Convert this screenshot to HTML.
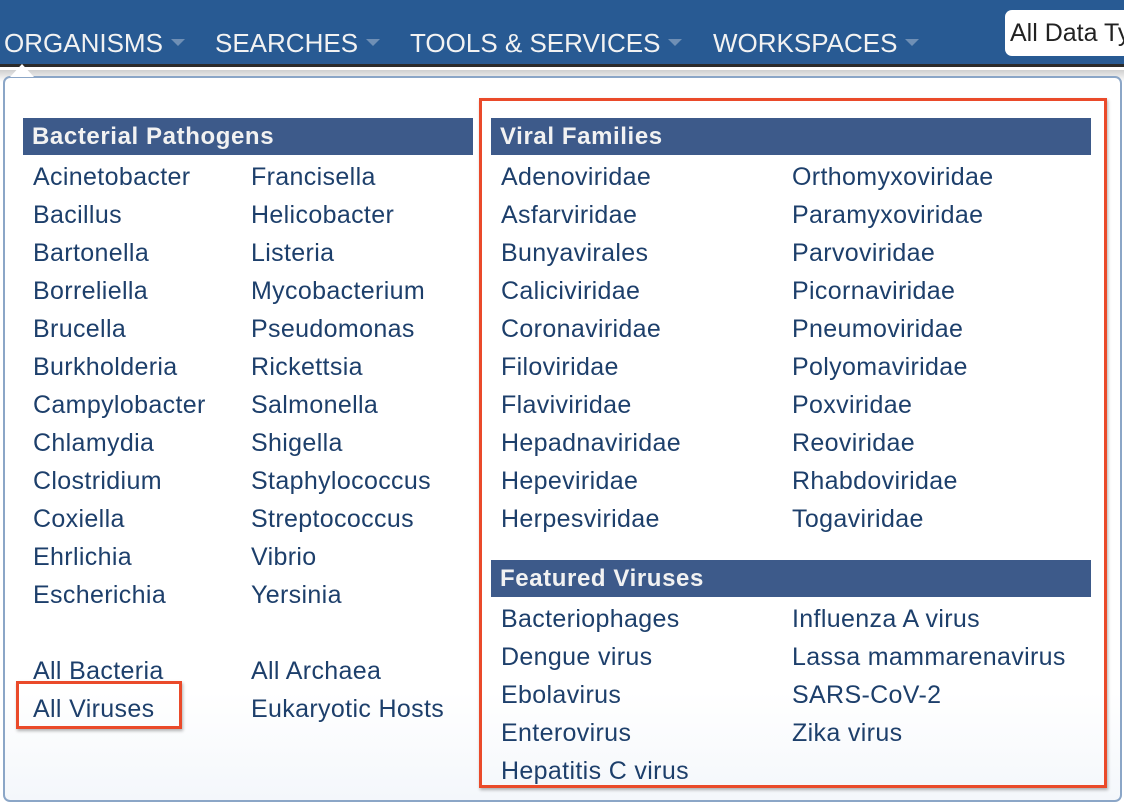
<!DOCTYPE html>
<html><head><meta charset="utf-8">
<style>
*{margin:0;padding:0;box-sizing:border-box}
html,body{width:1124px;height:807px;overflow:hidden;background:#fff;font-family:"Liberation Sans",Arial,sans-serif}
#nav{position:absolute;left:0;top:0;width:1124px;height:67px;background:#285a93;border-bottom:3px solid #2b2b2b}
.nav-item{position:absolute;top:25px;color:#f2f2f2;font-size:26px;line-height:36px;white-space:nowrap}
.caret{display:inline-block;width:0;height:0;border-left:7px solid transparent;border-right:7px solid transparent;border-top:7px solid #6f8fb5;margin-left:8px;vertical-align:middle;position:relative;top:-3px}
#search{position:absolute;left:1005px;top:10px;width:130px;height:46px;background:#fff;border-radius:7px;font-size:25px;color:#222;padding:9px 0 0 5px;white-space:nowrap;overflow:hidden}
#shade{position:absolute;left:0;top:70px;width:1124px;height:737px;background:linear-gradient(#cfcfcf,#fff 12px)}
#panel{position:absolute;left:3px;top:76px;width:1119px;height:726px;border:2px solid #8ba6c7;border-radius:7px;background:linear-gradient(#fff 85%,#f4f7fb)}
#notch{position:absolute;left:10px;top:64px;width:0;height:0;border-left:12px solid transparent;border-right:12px solid transparent;border-bottom:13px solid #fff}
.hdr{position:absolute;height:37px;background:#3d5a8a;color:#f2f2f2;font-weight:bold;font-size:24px;letter-spacing:0.6px;line-height:38px;padding-left:9px;white-space:nowrap}
.item{position:absolute;color:#1d3f6b;font-size:25px;letter-spacing:0.35px;line-height:38px;white-space:nowrap}
.red{position:absolute;border:3px solid #ea4a2a;box-shadow:1px 2px 3px rgba(0,0,0,.3)}
</style></head><body>
<div id="nav">
 <div class="nav-item" style="left:4px">ORGANISMS<span class="caret"></span></div>
 <div class="nav-item" style="left:215px">SEARCHES<span class="caret"></span></div>
 <div class="nav-item" style="left:410px">TOOLS &amp; SERVICES<span class="caret"></span></div>
 <div class="nav-item" style="left:713px">WORKSPACES<span class="caret"></span></div>
 <div id="search">All Data Types</div>
</div>
<div id="shade"></div>
<div id="panel"></div>
<div id="notch"></div>
<div class="hdr" style="left:23px;top:118px;width:450px">Bacterial Pathogens</div>
<div class="hdr" style="left:491px;top:118px;width:600px">Viral Families</div>
<div class="hdr" style="left:491px;top:560px;width:600px">Featured Viruses</div>
<div id="items"></div>
<div class="red" style="left:479px;top:98px;width:628px;height:690px"></div>
<div class="red" style="left:16px;top:681px;width:166px;height:48px"></div>
<script>
const bacCol1=["Acinetobacter","Bacillus","Bartonella","Borreliella","Brucella","Burkholderia","Campylobacter","Chlamydia","Clostridium","Coxiella","Ehrlichia","Escherichia"];
const bacCol2=["Francisella","Helicobacter","Listeria","Mycobacterium","Pseudomonas","Rickettsia","Salmonella","Shigella","Staphylococcus","Streptococcus","Vibrio","Yersinia"];
const allCol1=["All Bacteria","All Viruses"];
const allCol2=["All Archaea","Eukaryotic Hosts"];
const virCol1=["Adenoviridae","Asfarviridae","Bunyavirales","Caliciviridae","Coronaviridae","Filoviridae","Flaviviridae","Hepadnaviridae","Hepeviridae","Herpesviridae"];
const virCol2=["Orthomyxoviridae","Paramyxoviridae","Parvoviridae","Picornaviridae","Pneumoviridae","Polyomaviridae","Poxviridae","Reoviridae","Rhabdoviridae","Togaviridae"];
const featCol1=["Bacteriophages","Dengue virus","Ebolavirus","Enterovirus","Hepatitis C virus"];
const featCol2=["Influenza A virus","Lassa mammarenavirus","SARS-CoV-2","Zika virus"];
const box=document.getElementById('items');
function col(list,x,yCenter){
 list.forEach((t,i)=>{
  const d=document.createElement('div');
  d.className='item';
  d.textContent=t;
  d.style.left=x+'px';
  d.style.top=(yCenter-17+i*38)+'px';
  
  
  box.appendChild(d);
 });
}
col(bacCol1,33,175);col(bacCol2,251,175);
col(allCol1,33,669);col(allCol2,251,669);
col(virCol1,501,175);col(virCol2,792,175);
col(featCol1,501,617);col(featCol2,792,617);
</script>
</body></html>
